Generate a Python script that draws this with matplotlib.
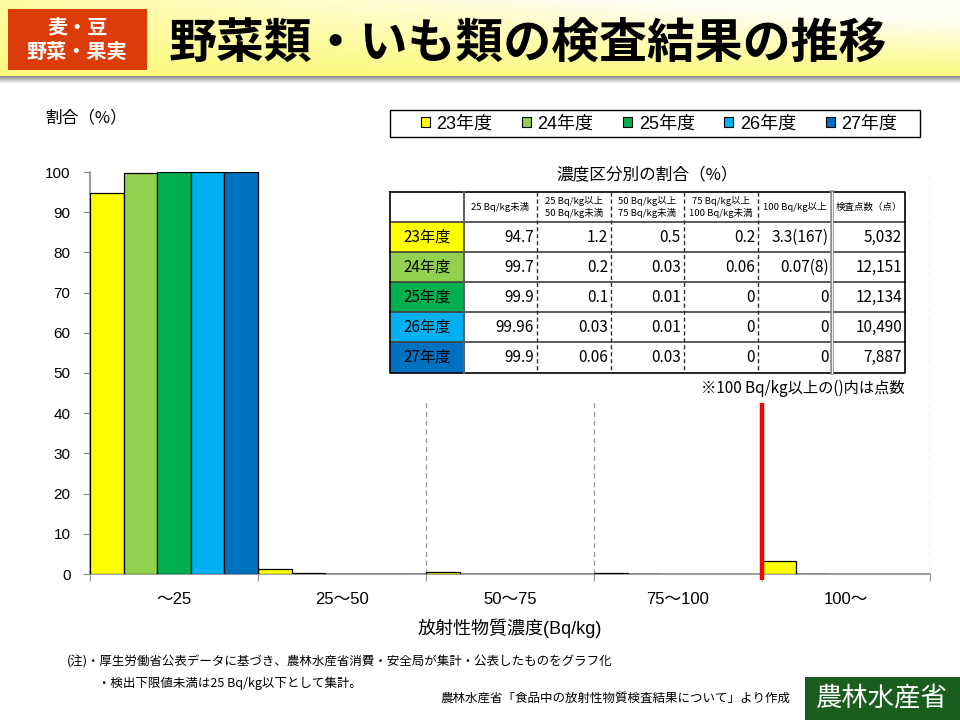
import numpy as np
import matplotlib
matplotlib.use("Agg")
import matplotlib.pyplot as plt
from matplotlib.patches import Rectangle

JP = ['Noto Sans CJK JP', 'DejaVu Sans']
LJ = ['Liberation Sans', 'Noto Sans CJK JP', 'DejaVu Sans']
plt.rcParams['font.family'] = LJ

# ---------------- data ----------------
categories = ['～25', '25～50', '50～75', '75～100', '100～']
years = ['23年度', '24年度', '25年度', '26年度', '27年度']
colors = ['#FFFF00', '#92D050', '#00B050', '#00B0F0', '#0070C0']
lt25 = [94.7, 99.7, 99.9, 99.96, 99.9]
b25_50 = [1.2, 0.2, 0.1, 0.03, 0.06]
b50_75 = [0.5, 0.03, 0.01, 0.01, 0.03]
b75_100 = [0.2, 0.06, 0, 0, 0]
ge100 = [3.3, 0.07, 0, 0, 0]
ge100_counts = [167, 8, None, None, None]
totals = [5032, 12151, 12134, 10490, 7887]
yticks = [0, 10, 20, 30, 40, 50, 60, 70, 80, 90, 100]
table_headers = ['25 Bq/kg未満', '25 Bq/kg以上\n50 Bq/kg未満', '50 Bq/kg以上\n75 Bq/kg未満',
                 '75 Bq/kg以上\n100 Bq/kg未満', '100 Bq/kg以上', '検査点数（点）']
limit_x = 3.5  # 100 Bq/kg boundary

W, H = 960, 720
fig = plt.figure(figsize=(9.6, 7.2), dpi=100)
fig.patch.set_facecolor('white')

def fx(x): return x / W
def fy(y): return 1 - y / H

# ---------------- chart axes ----------------
L, R, T, B = 90, 930, 172, 574
ax = fig.add_axes([fx(L), fy(B), (R - L) / W, (B - T) / H])
ax.set_xlim(-0.5, 4.5)
ax.set_ylim(0, 100)
for s in ['top', 'right']:
    ax.spines[s].set_visible(False)
for s in ['left', 'bottom']:
    ax.spines[s].set_color('#8C8C8C')
    ax.spines[s].set_linewidth(1.2)

series = [[lt25[j], b25_50[j], b50_75[j], b75_100[j], ge100[j]] for j in range(5)]
bw = 0.2
x = np.arange(5)
for j in range(5):
    vals = np.array(series[j], dtype=float)
    lw = [0.9 if v > 0 else 0 for v in vals]
    ax.bar(x + (j - 2) * bw, vals, width=bw, color=colors[j], edgecolor='black',
           linewidth=lw, zorder=3)

for xb in [0.5, 1.5, 2.5, 3.5, 4.5]:
    ax.axvline(xb, color='#9A9A9A', linestyle=(0, (4, 3)), linewidth=0.9, zorder=1)

ax.plot([limit_x, limit_x], [-1.5, 42.5], color='#FF0000', linewidth=3.2,
        zorder=6, clip_on=False, solid_capstyle='butt')

ax.set_yticks(yticks)
ax.set_yticklabels([str(v) for v in yticks], fontsize=11, family=LJ)
ax.tick_params(axis='y', direction='out', length=5, color='#8C8C8C', pad=9)
ax.set_xticks([-0.5, 0.5, 1.5, 2.5, 3.5, 4.5])
ax.set_xticklabels([])
ax.tick_params(axis='x', which='major', direction='out', length=5, color='#8C8C8C')
ax.set_xticks(x, minor=True)
ax.set_xticklabels(categories, minor=True, fontsize=12, family=LJ)
ax.tick_params(axis='x', which='minor', length=0, pad=13)
ax.set_xlabel('放射性物質濃度(Bq/kg)', fontsize=13, family=LJ, labelpad=8)

fig.text(fx(45), fy(118), '割合（%）', fontsize=12, family=JP, ha='left', va='center')

# ---------------- overlay (pixel coordinates) ----------------
ov = fig.add_axes([0, 0, 1, 1], zorder=10)
ov.patch.set_alpha(0)

# header gradient band
gx = np.linspace(0, 1, 200)[None, :]
gy = np.linspace(0, 1, 40)[:, None]
white_f = np.clip((0.25 + 0.9 * gx) * (1 - gy) * 1.1, 0, 0.92)
base = np.array([0.99, 0.98, 0.50])
img = base[None, None, :] * (1 - white_f[..., None]) + white_f[..., None]
ov.imshow(img, extent=[0, W, 76, 0], aspect='auto', zorder=0, interpolation='bilinear')
sh = np.linspace(0.55, 1.0, 10)[:, None, None] * np.ones((1, 2, 3))
ov.imshow(sh, extent=[0, W, 84, 76], aspect='auto', zorder=0, interpolation='bilinear')
ov.set_xlim(0, W)
ov.set_ylim(H, 0)
ov.axis('off')

ov.add_patch(Rectangle((8, 9), 139, 61, facecolor='#DC3C0A', edgecolor='none', zorder=2))
ov.text(77, 27, '麦・豆', color='white', fontsize=14.5, fontweight='bold', family=JP,
        ha='center', va='center', zorder=3)
ov.text(77, 51, '野菜・果実', color='white', fontsize=14.5, fontweight='bold', family=JP,
        ha='center', va='center', zorder=3)
ov.text(528, 43, '野菜類・いも類の検査結果の推移', color='black', fontsize=34.5,
        fontweight='bold', family=JP, ha='center', va='center', zorder=3)

# legend
ov.add_patch(Rectangle((390, 110), 530, 27, facecolor='white', edgecolor='black',
                       linewidth=1.0, zorder=2))
handles = [Rectangle((0, 0), 1, 1, facecolor=c, edgecolor='black', linewidth=0.8) for c in colors]
leg = fig.legend(handles, years, ncol=5, loc='center', bbox_to_anchor=(fx(659), fy(124)),
                 frameon=False, handlelength=0.5, handleheight=0.5,
                 handletextpad=0.35, columnspacing=1.65, prop={'family': LJ, 'size': 13})
leg.set_zorder(20)

# table
cx = [390, 464, 537, 611, 684, 758, 832, 905]
ry = [192, 222, 252, 282, 312, 342, 373]
# white text box (covers gridlines behind table, title and note)
ov.add_patch(Rectangle((386, 158), 524, 242, facecolor='white', edgecolor='none', zorder=1))
ov.text((cx[0] + cx[-1]) / 2, 176, '濃度区分別の割合（%）', fontsize=12, family=JP,
        ha='center', va='center', zorder=4)
for i in range(5):
    ov.add_patch(Rectangle((cx[0], ry[i + 1]), cx[1] - cx[0], ry[i + 2] - ry[i + 1],
                           facecolor=colors[i], edgecolor='none', zorder=3))
    ov.text((cx[0] + cx[1]) / 2, (ry[i + 1] + ry[i + 2]) / 2, years[i], fontsize=11,
            family=JP, ha='center', va='center', zorder=5)
for yy in ry[1:-1]:
    ov.plot([cx[0], cx[-1]], [yy, yy], color='#404040', linewidth=1.2, zorder=4)
ov.plot([cx[0], cx[-1], cx[-1], cx[0], cx[0]], [ry[0], ry[0], ry[-1], ry[-1], ry[0]],
        color='black', linewidth=1.2, zorder=4)
ov.plot([cx[1], cx[1]], [ry[0], ry[-1]], color='#606060', linewidth=1.5, zorder=4)
for xx in cx[2:6]:
    ov.plot([xx, xx], [ry[0], ry[-1]], color='#303030', linewidth=1.0,
            linestyle=(0, (3, 2)), zorder=4)
ov.plot([cx[6], cx[6]], [ry[0], ry[-1]], color='#909090', linewidth=2.6, zorder=4)
ov.plot([cx[6], cx[6]], [ry[0], ry[-1]], color='white', linewidth=0.6, zorder=4)

for k, h in enumerate(table_headers):
    ov.text((cx[k + 1] + cx[k + 2]) / 2, (ry[0] + ry[1]) / 2, h, fontsize=6.8,
            family=JP, ha='center', va='center', linespacing=1.25, zorder=5)

def fmt(v):
    return '0' if v == 0 else str(v)

cols = [lt25, b25_50, b50_75, b75_100]
for i in range(5):
    yc = (ry[i + 1] + ry[i + 2]) / 2
    row = [fmt(c[i]) for c in cols]
    g = fmt(ge100[i])
    if ge100_counts[i] is not None:
        g += '(%d)' % ge100_counts[i]
    row.append(g)
    row.append(f'{totals[i]:,}')
    for k, s in enumerate(row):
        ov.text(cx[k + 2] - 3, yc, s, fontsize=11, family=JP, ha='right', va='center', zorder=5)

ov.text(905, 388, '※100 Bq/kg以上の()内は点数', fontsize=11, family=JP, ha='right',
        va='center', zorder=5)

# footer
ov.text(67, 662, '(注)・厚生労働省公表データに基づき、農林水産省消費・安全局が集計・公表したものをグラフ化',
        fontsize=9, family=JP, ha='left', va='center')
ov.text(98, 683, '・検出下限値未満は25 Bq/kg以下として集計。', fontsize=9, family=JP,
        ha='left', va='center')
ov.text(790, 698, '農林水産省「食品中の放射性物質検査結果について」より作成', fontsize=9,
        family=JP, ha='right', va='center')
ov.add_patch(Rectangle((805, 677), 155, 43, facecolor='#1A5E1F', edgecolor='none', zorder=2))
ov.text(882, 698, '農林水産省', color='white', fontsize=19, family=JP, ha='center',
        va='center', zorder=3)

fig.savefig('out.png', dpi=100)
